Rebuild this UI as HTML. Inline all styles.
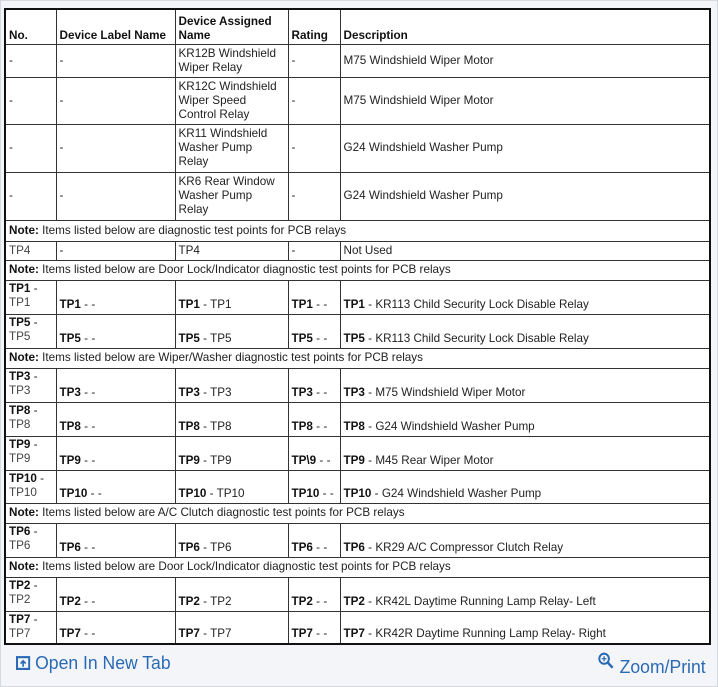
<!DOCTYPE html>
<html><head><meta charset="utf-8"><style>
html,body{margin:0;padding:0;background:#fff;}
.panel{position:absolute;left:0;top:0;width:716px;height:685px;background:#f3f5f8;border:1px solid #d6d9de;}
table{position:absolute;left:4px;top:8px;width:707px;border-collapse:collapse;background:#fff;border:2px solid #111;font-family:"Liberation Sans",Arial,sans-serif;font-size:11.7px;color:#222;table-layout:fixed;}
td,th{border:1px solid #333;padding:1px 3px;line-height:14px;vertical-align:middle;text-align:left;overflow:hidden;white-space:nowrap;}
th{font-weight:bold;vertical-align:bottom;color:#111;}
tr.tp td{vertical-align:bottom;padding-bottom:2px;}
tr.tp td:first-child{vertical-align:top;}
b{color:#111;}
.g{color:#444;}
.links{position:absolute;top:652px;font-family:"Liberation Sans",Arial,sans-serif;font-size:18.5px;color:#2a6ab5;transform:scaleX(0.95);white-space:nowrap;}
</style></head><body>
<div class="panel"></div>
<table>
<colgroup><col style="width:51px"><col style="width:119px"><col style="width:113px"><col style="width:52px"><col></colgroup>
<tr style="height:35px"><th>No.</th><th>Device Label Name</th><th>Device Assigned<br>Name</th><th>Rating</th><th>Description</th></tr>
<tr style="height:33px"><td>-</td><td>-</td><td>KR12B Windshield<br>Wiper Relay</td><td>-</td><td>M75 Windshield Wiper Motor</td></tr>
<tr style="height:47px"><td>-</td><td>-</td><td>KR12C Windshield<br>Wiper Speed<br>Control Relay</td><td>-</td><td>M75 Windshield Wiper Motor</td></tr>
<tr style="height:48px"><td>-</td><td>-</td><td>KR11 Windshield<br>Washer Pump<br>Relay</td><td>-</td><td>G24 Windshield Washer Pump</td></tr>
<tr style="height:48px"><td>-</td><td>-</td><td>KR6 Rear Window<br>Washer Pump<br>Relay</td><td>-</td><td>G24 Windshield Washer Pump</td></tr>
<tr style="height:21px"><td colspan="5"><b>Note:</b> Items listed below are diagnostic test points for PCB relays</td></tr>
<tr style="height:19px"><td class="g">TP4</td><td>-</td><td>TP4</td><td>-</td><td>Not Used</td></tr>
<tr style="height:20px"><td colspan="5"><b>Note:</b> Items listed below are Door Lock/Indicator diagnostic test points for PCB relays</td></tr>
<tr class="tp" style="height:34px"><td><b>TP1</b> -<br><span class="g">TP1</span></td><td><b>TP1</b> - -</td><td><b>TP1</b> - TP1</td><td><b>TP1</b> - -</td><td><b>TP1</b> - KR113 Child Security Lock Disable Relay</td></tr>
<tr class="tp" style="height:34px"><td><b>TP5</b> -<br><span class="g">TP5</span></td><td><b>TP5</b> - -</td><td><b>TP5</b> - TP5</td><td><b>TP5</b> - -</td><td><b>TP5</b> - KR113 Child Security Lock Disable Relay</td></tr>
<tr style="height:20px"><td colspan="5"><b>Note:</b> Items listed below are Wiper/Washer diagnostic test points for PCB relays</td></tr>
<tr class="tp" style="height:34px"><td><b>TP3</b> -<br><span class="g">TP3</span></td><td><b>TP3</b> - -</td><td><b>TP3</b> - TP3</td><td><b>TP3</b> - -</td><td><b>TP3</b> - M75 Windshield Wiper Motor</td></tr>
<tr class="tp" style="height:34px"><td><b>TP8</b> -<br><span class="g">TP8</span></td><td><b>TP8</b> - -</td><td><b>TP8</b> - TP8</td><td><b>TP8</b> - -</td><td><b>TP8</b> - G24 Windshield Washer Pump</td></tr>
<tr class="tp" style="height:34px"><td><b>TP9</b> -<br><span class="g">TP9</span></td><td><b>TP9</b> - -</td><td><b>TP9</b> - TP9</td><td><b>TP\9</b> - -</td><td><b>TP9</b> - M45 Rear Wiper Motor</td></tr>
<tr class="tp" style="height:33px"><td><b>TP10</b> -<br><span class="g">TP10</span></td><td><b>TP10</b> - -</td><td><b>TP10</b> - TP10</td><td><b>TP10</b> - -</td><td><b>TP10</b> - G24 Windshield Washer Pump</td></tr>
<tr style="height:20px"><td colspan="5"><b>Note:</b> Items listed below are A/C Clutch diagnostic test points for PCB relays</td></tr>
<tr class="tp" style="height:34px"><td><b>TP6</b> -<br><span class="g">TP6</span></td><td><b>TP6</b> - -</td><td><b>TP6</b> - TP6</td><td><b>TP6</b> - -</td><td><b>TP6</b> - KR29 A/C Compressor Clutch Relay</td></tr>
<tr style="height:20px"><td colspan="5"><b>Note:</b> Items listed below are Door Lock/Indicator diagnostic test points for PCB relays</td></tr>
<tr class="tp" style="height:34px"><td><b>TP2</b> -<br><span class="g">TP2</span></td><td><b>TP2</b> - -</td><td><b>TP2</b> - TP2</td><td><b>TP2</b> - -</td><td><b>TP2</b> - KR42L Daytime Running Lamp Relay- Left</td></tr>
<tr class="tp" style="height:33px"><td><b>TP7</b> -<br><span class="g">TP7</span></td><td><b>TP7</b> - -</td><td><b>TP7</b> - TP7</td><td><b>TP7</b> - -</td><td><b>TP7</b> - KR42R Daytime Running Lamp Relay- Right</td></tr>
</table>
<div class="links" style="left:16px;transform-origin:left;"><svg width="15" height="15" viewBox="0 0 14 14" style="vertical-align:-1px"><rect x="1" y="2" width="12" height="11" fill="none" stroke="#2a6ab5" stroke-width="2"/><path d="M7 11V6M4.5 8L7 5.5 9.5 8" stroke="#2a6ab5" stroke-width="1.6" fill="none"/></svg>&nbsp;Open In New Tab</div>
<div class="links" style="right:12px;transform-origin:right;"><svg width="18" height="18" viewBox="0 0 16 16" style="vertical-align:3px"><circle cx="6" cy="6" r="4.5" fill="none" stroke="#2a6ab5" stroke-width="1.8"/><path d="M9.5 9.5L14 14" stroke="#2a6ab5" stroke-width="2.2"/><path d="M6 3.8v4.4M3.8 6h4.4" stroke="#2a6ab5" stroke-width="1.2"/></svg>&nbsp;Zoom/Print</div>
</body></html>
